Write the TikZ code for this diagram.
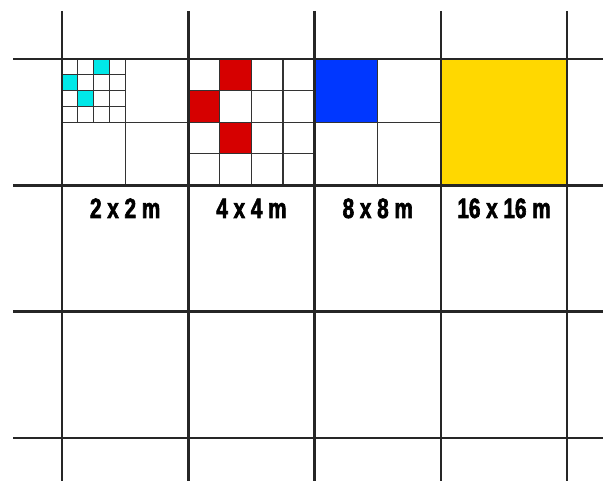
\documentclass[tikz,border=0pt]{standalone}
\usepackage{fontspec}
\newfontfamily\sizefont[FakeStretch=0.74,FakeBold=2.2]{Liberation Sans Bold}
\definecolor{cellcyan}{RGB}{0,232,232}
\definecolor{cellred}{RGB}{214,0,0}
\definecolor{cellblue}{RGB}{0,55,255}
\definecolor{cellyellow}{RGB}{255,216,0}

\begin{document}
\begin{tikzpicture}[x=0.75pt, y=-0.75pt,
    major/.style={line width=1.9pt, black!85},
    minor/.style={line width=0.9pt, black!80},
    sizelabel/.style={font=\sizefont\fontsize{21}{25}\selectfont, inner sep=0pt, anchor=base}]

        \useasboundingbox (0,0) rectangle (603,481);

        \def\c{126.3} % side of one big cell
        \def\xo{62} % left grid line
        \def\yo{59} % top grid line

        % coloured cells
        \foreach \i/\j in {2/0, 0/1, 1/2} {
          \fill[cellcyan] (\xo+\i*\c/8, \yo+\j*\c/8) rectangle ++(\c/8, \c/8);
        }
        \foreach \i/\j in {1/0, 0/1, 1/2} {
          \fill[cellred] (\xo+\c+\i*\c/4, \yo+\j*\c/4) rectangle ++(\c/4, \c/4);
        }
        \fill[cellblue] (\xo+2*\c, \yo) rectangle ++(\c/2, \c/2);
        \fill[cellyellow] (\xo+3*\c, \yo) rectangle ++(\c, \c);

        % 2 x 2 m cell
        \foreach \k in {1,2,3} {
          \draw[minor] (\xo+\k*\c/8, \yo) -- ++(0, \c/2);
          \draw[minor] (\xo, \yo+\k*\c/8) -- ++(\c/2, 0);
        }
        \draw[minor] (\xo+\c/2, \yo) -- ++(0, \c);
        \draw[minor] (\xo, \yo+\c/2) -- ++(\c, 0);

        % 4 x 4 m cell
        \foreach \k in {1,2,3} {
          \draw[minor] (\xo+\c+\k*\c/4, \yo) -- ++(0, \c);
          \draw[minor] (\xo+\c, \yo+\k*\c/4) -- ++(\c, 0);
        }

        % 8 x 8 m cell
        \draw[minor] (\xo+2.5*\c, \yo) -- ++(0, \c);
        \draw[minor] (\xo+2*\c, \yo+\c/2) -- ++(\c, 0);

        % main grid
        \foreach \j in {0,...,3} {
          \draw[major] (13, \yo+\j*\c) -- (603, \yo+\j*\c);
        }
        \foreach \i in {0,...,4} {
          \draw[major] (\xo+\i*\c, 11) -- (\xo+\i*\c, 481);
        }

        \node[sizelabel] (size2) at (\xo+0.5*\c, 218) {2 x 2 m};
        \node[sizelabel] (size4) at (\xo+1.5*\c, 218) {4 x 4 m};
        \node[sizelabel] (size8) at (\xo+2.5*\c, 218) {8 x 8 m};
        \node[sizelabel] (size16) at (\xo+3.5*\c, 218) {16 x 16 m};

      \end{tikzpicture}
\end{document}
